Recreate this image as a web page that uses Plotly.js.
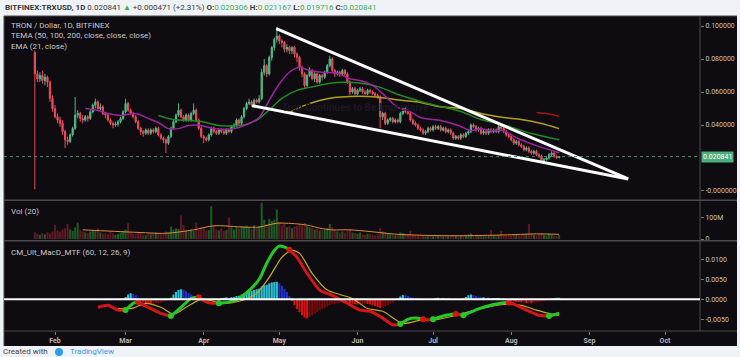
<!DOCTYPE html>
<html><head><meta charset="utf-8">
<script src="https://cdn.plot.ly/plotly-3.0.1.min.js"></script>
<style>html,body{margin:0;padding:0;background:#eff2f6;}#chart{width:740px;height:357px;}</style>
</head><body><div id="chart"></div>
<script>
// ---------------- DATA ----------------
const startDay = '2018-01-24';
const opens = [.084,.071,.068,.070,.067,.069,.066,.056,.050,.045,
.043,.041,.036,.031,.030,.034,.038,.046,.047,.044,
.043,.045,.044,.048,.052,.054,.050,.051,.047,.046,
.043,.041,.040,.0405,.042,.044,.048,.053,.049,.047,
.045,.042,.038,.036,.035,.037,.035,.037,.036,.038,
.034,.032,.031,.029,.033,.038,.042,.046,.049,.045,
.043,.046,.043,.047,.049,.043,.038,.033,.032,.031,
.034,.038,.036,.035,.037,.036,.035,.037,.036,.039,
.040,.043,.041,.045,.050,.053,.054,.052,.055,.054,
.056,.072,.076,.071,.081,.087,.092,.094,.091,.090,
.086,.087,.085,.087,.083,.081,.075,.071,.064,.070,
.073,.068,.071,.066,.070,.069,.072,.076,.080,.073,
.071,.072,.071,.073,.071,.066,.060,.062,.059,.061,
.062,.060,.059,.061,.060,.059,.058,.057,.045,.047,
.041,.043,.044,.042,.043,.042,.047,.050,.048,.047,
.043,.041,.040,.038,.037,.035,.036,.038,.037,.039,
.038,.039,.037,.038,.036,.037,.035,.032,.033,.032,
.034,.033,.035,.036,.040,.039,.037,.038,.035,.036,
.035,.037,.036,.037,.036,.039,.038,.036,.034,.033,
.031,.029,.030,.028,.027,.025,.026,.024,.023,.024,
.022,.021,.018,.019,.020,.022,.023,.021,.020306];
const highs = [.085,.073,.072,.073,.071,.070,.067,.058,.052,.047,
.045,.043,.037,.033,.035,.039,.057,.049,.048,.046,
.046,.046,.049,.053,.056,.055,.053,.052,.048,.047,
.044,.042,.042,.043,.045,.049,.056,.054,.050,.048,
.046,.043,.039,.037,.038,.038,.038,.038,.039,.039,
.035,.033,.032,.034,.039,.043,.047,.053,.050,.046,
.047,.047,.048,.053,.050,.044,.039,.034,.033,.035,
.039,.039,.037,.038,.038,.037,.038,.038,.040,.041,
.044,.044,.046,.051,.054,.056,.055,.056,.056,.058,
.074,.080,.077,.082,.088,.093,.0995,.095,.092,.091,
.089,.088,.088,.088,.084,.082,.076,.072,.071,.075,
.074,.072,.072,.071,.071,.073,.077,.082,.081,.074,
.073,.073,.074,.074,.072,.067,.063,.063,.062,.063,
.063,.061,.062,.062,.061,.060,.059,.058,.048,.048,
.044,.045,.045,.044,.044,.048,.051,.051,.049,.048,
.044,.042,.041,.039,.038,.037,.039,.039,.040,.040,
.040,.040,.039,.039,.038,.038,.036,.034,.034,.035,
.035,.036,.037,.041,.041,.040,.039,.039,.037,.037,
.038,.038,.038,.038,.040,.040,.039,.037,.035,.034,
.032,.031,.031,.029,.028,.027,.027,.025,.025,.025,
.023,.022,.020,.021,.023,.024,.024,.022,.021167];
const lows = [.001,.066,.066,.065,.064,.063,.054,.048,.044,.041,
.039,.034,.026,.028,.029,.033,.037,.044,.042,.041,
.042,.042,.043,.047,.050,.049,.049,.046,.044,.042,
.040,.038,.039,.039,.041,.043,.047,.048,.046,.044,
.041,.037,.034,.033,.034,.034,.034,.035,.035,.033,
.031,.029,.023,.028,.032,.037,.041,.045,.044,.042,
.042,.042,.042,.046,.042,.037,.032,.029,.030,.030,
.033,.035,.034,.034,.035,.034,.034,.035,.035,.038,
.039,.040,.040,.044,.049,.052,.051,.051,.053,.053,
.055,.070,.069,.070,.079,.085,.090,.089,.087,.084,
.084,.083,.083,.081,.078,.073,.069,.062,.063,.069,
.067,.066,.065,.065,.067,.068,.071,.075,.072,.069,
.070,.069,.070,.070,.065,.058,.059,.058,.058,.060,
.059,.058,.058,.059,.058,.057,.056,.038,.043,.040,
.040,.042,.041,.041,.041,.041,.046,.047,.046,.042,
.040,.039,.037,.036,.034,.034,.035,.036,.036,.037,
.037,.036,.036,.035,.035,.034,.031,.031,.031,.031,
.032,.032,.034,.035,.038,.036,.036,.034,.034,.034,
.034,.035,.035,.035,.035,.037,.035,.033,.032,.030,
.028,.028,.027,.026,.024,.024,.023,.022,.022,.021,
.020,.0175,.0175,.0185,.019,.021,.020,.0195,.019716];
const closes = [.071,.068,.070,.067,.069,.066,.056,.050,.045,.043,
.041,.036,.031,.030,.034,.038,.046,.047,.044,.043,
.045,.044,.048,.052,.054,.050,.051,.047,.046,.043,
.041,.040,.0405,.042,.044,.048,.053,.049,.047,.045,
.042,.038,.036,.035,.037,.035,.037,.036,.038,.034,
.032,.031,.029,.033,.038,.042,.046,.049,.045,.043,
.046,.043,.047,.049,.043,.038,.033,.032,.031,.034,
.038,.036,.035,.037,.036,.035,.037,.036,.039,.040,
.043,.041,.045,.050,.053,.054,.052,.055,.054,.056,
.072,.076,.071,.081,.087,.092,.094,.091,.090,.086,
.087,.085,.087,.083,.081,.075,.071,.064,.070,.073,
.068,.071,.066,.070,.069,.072,.076,.080,.073,.071,
.072,.071,.073,.071,.066,.060,.062,.059,.061,.062,
.060,.059,.061,.060,.059,.058,.057,.045,.047,.041,
.043,.044,.042,.043,.042,.047,.050,.048,.047,.043,
.041,.040,.038,.037,.035,.036,.038,.037,.039,.038,
.039,.037,.038,.036,.037,.035,.032,.033,.032,.034,
.033,.035,.036,.040,.039,.037,.038,.035,.036,.035,
.037,.036,.037,.036,.039,.038,.036,.034,.033,.031,
.029,.030,.028,.027,.025,.026,.024,.023,.024,.022,
.021,.018,.019,.020,.022,.023,.021,.0203,.020841];
// volume, millions
const volumes = [32,25,20,28,22,30,26,35,67,40,
35,45,50,70,45,38,55,78,40,35,
30,28,35,42,38,51,30,25,28,22,
32,26,20,24,30,35,45,74,30,25,
22,28,32,20,18,24,22,26,30,28,
22,25,35,30,59,45,50,48,110,67,
40,35,45,38,78,45,55,50,40,42,
154,60,45,40,50,38,42,102,55,45,
55,50,60,58,62,55,48,65,52,60,
170,90,70,95,85,90,138,80,65,70,
55,60,50,58,62,70,65,75,60,55,
50,45,48,40,42,45,50,70,55,40,
35,30,35,30,40,45,30,28,25,30,
22,20,25,22,20,18,22,51,35,30,
25,22,20,18,20,30,28,22,20,38,
18,15,17,13,16,12,14,17,13,15,
18,14,12,16,13,17,20,15,13,14,
18,19,22,26,18,15,14,17,13,16,
14,43,18,16,20,38,15,14,16,18,
20,22,18,20,24,22,70,25,20,18,
22,28,20,18,24,22,16,15,18];
const volMaIdx = [19,39,52,63,71,83,89,96,105,109,113,118,125,133,144,160,173,186,199,208];
const volMaVal = [43,32,27,43,62,56,56,74,70,63,51,43,43,35,22,16,16,19,24,22];

// moving averages (day index from startDay, value)
const emaIdx = [20,25,29,34,40,45,49,53,57,61,66,71,79,85,89,93,97,101,105,109,114,120,125,129,134,138,144,148,153,161,168,173,177,181,186,191,199,208];
const emaVal = [0.050,0.0488,0.047,0.0458,0.047,0.044,0.0415,0.0378,0.0378,0.0397,0.0397,0.0378,0.0378,0.0409,0.0445,0.055,0.065,0.072,0.075,0.073,0.072,0.0714,0.068,0.067,0.064,0.059,0.0506,0.049,0.0445,0.0427,0.0397,0.0366,0.0378,0.0366,0.0366,0.0323,0.0275,0.0232];
const tema50Idx = [49,55,66,73,81,85,89,94,98,104,109,117,124,132,137,145,153,161,169,177,187,197,208];
const tema50Val = [.0458,.0433,.0421,.0397,.0397,.0409,.0439,.0506,.0561,.061,.0628,.0653,.0659,.0647,.0628,.058,.0543,.0512,.0482,.0433,.0397,.0348,.0311];
const tema100Idx = [101,107,113,119,125,132,137,146,153,160,169,177,186,193,201,208];
const tema100Val = [.0476,.0519,.0549,.0567,.0573,.0573,.0567,.0549,.0537,.0512,.050,.047,.0445,.0433,.0409,.0378];
const tema200Idx = [199,204,208];
const tema200Val = [.0476,.0467,.0452];

// trend lines drawn on the chart
const upperTrendIdx = [95.8,235.4];
const upperTrendVal = [0.0985,0.0073];
const lowerTrendIdx = [86.2,235.4];
const lowerTrendVal = [0.0517,0.0073];

// MACD indicator
const histStart = 36;
const hist = [.0006,.0012,.0015,.0013,.0010,.0004,-.0003,-.0006,-.0009,-.0011,
-.0012,-.0012,-.0010,-.0009,-.0008,-.0006,-.0004,-.0002,.0004,.0012,
.0018,.0023,.0025,.0024,.0020,.0016,.0012,.0009,.0004,-.0002,
-.0005,-.0007,-.0006,-.0005,-.0004,-.0003,-.0002,.0001,.0003,.0004,
.0005,.0004,.0005,.0006,.0008,.0009,.0012,.0015,.0018,.0020,
.0021,.0023,.0025,.0027,.0032,.0035,.0036,.0040,.0042,.0043,
.0044,.0040,.0034,.0026,.0018,.0008,-.0004,-.0014,-.0024,-.0032,
-.0040,-.0046,-.0048,-.0044,-.0040,-.0036,-.0032,-.0028,-.0024,-.0021,
-.0018,-.0014,-.0012,-.0011,-.0010,-.0009,-.0008,-.0008,-.0007,-.0009,
-.0011,-.0012,-.0013,-.0013,-.0012,-.0011,-.0012,-.0013,-.0015,-.0017,
-.0019,-.0022,-.0020,-.0018,-.0015,-.0012,-.0008,-.0004,.0002,.0007,
.0011,.0010,.0008,.0006,.0004,.0003,.0002,.0001,-.0002,-.0002,
-.0001,-.0001,.0001,.0003,.0004,.0003,.0003,.0002,.0002,.0001,
-.0001,-.0002,-.0001,-.0001,.0002,.0006,.0010,.0012,.0010,.0008,
.0006,.0005,.0005,.0004,.0004,.0003,.0003,.0003,.0003,.0002,
.0002,.0001,-.0002,-.0004,-.0005,-.0006,-.0007,-.0008,-.0008,-.0009,
-.0009,-.0010,-.0009,-.0008,-.0007,-.0006,-.0004,-.0002,.0001,.0002,
.0003,.0004,.0004];
const macdIdx = [25,29,33,36,39,41,45,50,54,58,62,65,69,73,77,81,86,89,92,95,97,100,101,104,108,113,118,124,129,133,138,142,145,148,151,154,156,158,163,167,170,176,182,187,188,190,195,200,204,208];
const macdVal = [-0.0020,-0.0015,-0.0027,-0.0027,-0.0010,-0.0007,-0.0020,-0.0035,-0.0042,-0.0020,0.0002,0.0005,-0.0009,-0.0010,-0.0007,0.0002,0.0028,0.0050,0.0090,0.0122,0.0133,0.0128,0.0124,0.0105,0.0065,0.0023,0.0010,-0.0010,-0.0027,-0.0030,-0.0047,-0.0064,-0.0062,-0.0050,-0.0047,-0.0050,-0.0052,-0.0050,-0.0040,-0.0037,-0.0040,-0.0024,-0.0013,-0.0008,-0.0008,-0.0012,-0.0027,-0.0040,-0.0042,-0.0035];
const signalIdx = [33,39,44,50,55,60,66,71,76,81,88,93,98,102,105,110,116,121,126,132,138,146,153,160,169,177,186,193,199,205,208];
const signalVal = [-0.0023,-0.0022,-0.0010,-0.0020,-0.0037,-0.0020,0.0000,-0.0005,-0.0010,-0.0005,0.0015,0.0055,0.0105,0.0122,0.0115,0.0065,0.0023,0.0012,0.0002,-0.0023,-0.0030,-0.0060,-0.0052,-0.0050,-0.0037,-0.0023,-0.0013,-0.0015,-0.0027,-0.0037,-0.0040];

const priceTicks = [0,0.04,0.06,0.08,0.1];
const priceTickText = ['-0.000000','0.040000','0.060000','0.080000','0.100000'];
const volTicks = [0,100];
const volTickText = ['0','100M'];
const macdTicks = [-0.005,0,0.005,0.01];
const macdTickText = ['-0.0050','0.0000','0.0050','0.0100'];
const lastClose = 0.020841;

// ---------------- BUILD ----------------
const DAY = 86400000;
const t0 = Date.parse(startDay + 'T00:00:00Z');
function dayToDate(i){ return new Date(t0 + i*DAY).toISOString().replace('T',' ').slice(0,19); }
const dates = opens.map((_,i)=>dayToDate(i));
const W=740,H=357;
const px = x=>x/W, py = y=>1-y/H;
const FONT = 'Roboto, "Open Sans", sans-serif';
const BG = '#0e0b11';
const UP='#53b987', DN='#eb4d5c';

const traces = [];
traces.push({type:'candlestick', x:dates, open:opens, high:highs, low:lows, close:closes, xaxis:'x', yaxis:'y',
  increasing:{line:{color:UP,width:1},fillcolor:UP}, decreasing:{line:{color:DN,width:1},fillcolor:DN},
  whiskerwidth:0, hoverinfo:'skip'});
function line(idx,val,color,width,yaxis){
  return {type:'scatter',mode:'lines',x:idx.map(dayToDate),y:val,xaxis:'x',yaxis:yaxis||'y',
    line:{color:color,width:width,shape:'spline',smoothing:0.8},hoverinfo:'skip'};
}
traces.push(line(tema200Idx,tema200Val,'#a31212',1.5));
traces.push(line(tema100Idx,tema100Val,'#b3a018',1.5));
traces.push(line(tema50Idx,tema50Val,'#1f8c1f',1.5));
traces.push(line(emaIdx,emaVal,'#a0229f',1.5));
traces.push({type:'scatter',mode:'lines',x:upperTrendIdx.map(dayToDate),y:upperTrendVal,xaxis:'x',yaxis:'y',line:{color:'#ffffff',width:3},hoverinfo:'skip'});
traces.push({type:'scatter',mode:'lines',x:lowerTrendIdx.map(dayToDate),y:lowerTrendVal,xaxis:'x',yaxis:'y',line:{color:'#ffffff',width:3},hoverinfo:'skip'});

// volume
traces.push({type:'bar',x:dates,y:volumes,xaxis:'x',yaxis:'y2',width:DAY*0.8,
  marker:{color:volumes.map((v,i)=>closes[i]>=opens[i]?'#1e5a24':'#5e1a24'),line:{width:0}},hoverinfo:'skip'});
traces.push(line(volMaIdx,volMaVal,'#e08a3c',1,'y2'));

// MACD histogram
const histDates = hist.map((_,k)=>dayToDate(histStart+k));
const histColors = hist.map((h,k)=>{const hp = k>0?hist[k-1]:0; return h>=0 ? (h>=hp?'#2ac0d2':'#1f31c4') : (h<hp?'#cf1212':'#6e0a0a');});
traces.push({type:'bar',x:histDates,y:hist,xaxis:'x',yaxis:'y3',width:DAY*0.85,marker:{color:histColors,line:{width:0}},hoverinfo:'skip'});
traces.push(line(signalIdx,signalVal,'#c2ac1c',1.2,'y3'));
// MACD line coloured by histogram sign
function histAt(i){const k=Math.floor(i)-histStart; return (k>=0&&k<hist.length)?hist[k]:-1;}
const runs=[];
for(let j=0;j<macdIdx.length-1;j++){
  const up = histAt((macdIdx[j]+macdIdx[j+1])/2)>=0;
  if(runs.length && runs[runs.length-1].up===up){runs[runs.length-1].pts.push(j+1);} else runs.push({up:up,pts:[j,j+1]});
}
const dotX=[],dotY=[],dotC=[];
runs.forEach((r,n)=>{
  const c = r.up?'#25c825':'#d41616';
  traces.push({type:'scatter',mode:'lines',x:r.pts.map(j=>dayToDate(macdIdx[j])),y:r.pts.map(j=>macdVal[j]),xaxis:'x',yaxis:'y3',
    line:{color:c,width:3,shape:'spline',smoothing:0.6},hoverinfo:'skip'});
  if(n>0){dotX.push(dayToDate(macdIdx[r.pts[0]]));dotY.push(macdVal[r.pts[0]]);dotC.push(c);}
});
traces.push({type:'scatter',mode:'markers',x:dotX,y:dotY,xaxis:'x',yaxis:'y3',marker:{color:dotC,size:6},hoverinfo:'skip'});

const yCommon = {side:'right',anchor:'x',showgrid:false,zeroline:false,showline:false,ticks:'outside',ticklen:3,tickcolor:'#7a7a7a',
  tickfont:{family:FONT,size:7,color:'#c4c4c4'},fixedrange:true};
const GRID='#4a494e';
const layout = {
  width:W,height:H,margin:{l:0,r:0,t:0,b:0},paper_bgcolor:'#eff2f6',plot_bgcolor:BG,showlegend:false,
  xaxis:{type:'date',domain:[px(4),px(700)],range:['2018-01-11 18:25','2018-10-14 21:00'],anchor:'y3',
    rangeslider:{visible:false},showgrid:false,zeroline:false,showline:false,tickformat:'%b',dtick:'M1',tick0:'2018-01-01',
    ticks:'outside',ticklen:3,tickcolor:'#7a7a7a',tickfont:{family:FONT,size:7,color:'#b8b8b8',weight:'bold'}},
  yaxis:Object.assign({},yCommon,{domain:[py(200),py(16.5)],range:[-0.00547,0.10578],tickvals:priceTicks,ticktext:priceTickText}),
  yaxis2:Object.assign({},yCommon,{domain:[py(240.5),py(200.5)],range:[-7,180.75],tickvals:volTicks,ticktext:volTickText}),
  yaxis3:Object.assign({},yCommon,{domain:[py(330.7),py(241)],range:[-0.00785,0.014575],tickvals:macdTicks,ticktext:macdTickText}),
  shapes:[
    {type:'rect',xref:'paper',yref:'paper',x0:px(4),x1:px(737),y0:py(346),y1:py(16),fillcolor:BG,line:{width:0},layer:'below'},
    {type:'line',xref:'paper',yref:'paper',x0:px(4),x1:px(737),y0:py(16),y1:py(16),line:{color:GRID,width:1}},
    {type:'line',xref:'paper',yref:'paper',x0:px(4),x1:px(4),y0:py(16),y1:py(346),line:{color:GRID,width:1}},
    {type:'line',xref:'paper',yref:'paper',x0:px(700),x1:px(700),y0:py(16),y1:py(331),line:{color:GRID,width:1}},
    {type:'line',xref:'paper',yref:'paper',x0:px(4),x1:px(737),y0:py(200.3),y1:py(200.3),line:{color:GRID,width:1.5}},
    {type:'line',xref:'paper',yref:'paper',x0:px(4),x1:px(737),y0:py(240.7),y1:py(240.7),line:{color:GRID,width:1.5}},
    {type:'line',xref:'paper',yref:'paper',x0:px(4),x1:px(737),y0:py(331),y1:py(331),line:{color:GRID,width:1}},
    {type:'line',xref:'x domain',yref:'y',x0:0,x1:1,y0:lastClose,y1:lastClose,line:{color:'#3f8a70',width:1,dash:'dot'}},
    {type:'line',xref:'x domain',yref:'y3',x0:0,x1:1,y0:0,y1:0,line:{color:'#ffffff',width:2}},
    {type:'circle',xref:'paper',yref:'paper',x0:px(55),x1:px(63),y0:py(356),y1:py(348),fillcolor:'#2a9df4',line:{width:0}}
  ],
  annotations:[
    {xref:'paper',yref:'paper',x:px(3),y:py(7),xanchor:'left',yanchor:'middle',showarrow:false,
      font:{family:FONT,size:8,color:'#3a3a3a'},
      text:"<b>BITFINEX:TRXUSD, 1D</b> 0.020841 <span style='color:#3fae5a'>▲</span> +0.000471 (+2.31%) <b>O:</b><span style='color:#3fae5a'>0.020306</span> <b>H:</b><span style='color:#3fae5a'>0.021167</span> <b>L:</b><span style='color:#3fae5a'>0.019716</span> <b>C:</b><span style='color:#3fae5a'>0.020841</span>"},
    {xref:'paper',yref:'paper',x:px(9),y:py(26),xanchor:'left',yanchor:'middle',showarrow:false,font:{family:FONT,size:8,color:'#c9c9c9'},text:'TRON / Dollar, 1D, BITFINEX'},
    {xref:'paper',yref:'paper',x:px(9),y:py(36),xanchor:'left',yanchor:'middle',showarrow:false,font:{family:FONT,size:8,color:'#c9c9c9'},text:'TEMA (50, 100, 200, close, close, close)'},
    {xref:'paper',yref:'paper',x:px(9),y:py(46.5),xanchor:'left',yanchor:'middle',showarrow:false,font:{family:FONT,size:8,color:'#c9c9c9'},text:'EMA (21, close)'},
    {xref:'paper',yref:'paper',x:px(9),y:py(211),xanchor:'left',yanchor:'middle',showarrow:false,font:{family:FONT,size:8,color:'#c9c9c9'},text:'Vol (20)'},
    {xref:'paper',yref:'paper',x:px(9),y:py(252),xanchor:'left',yanchor:'middle',showarrow:false,font:{family:FONT,size:8,color:'#c9c9c9'},text:'CM_Ult_MacD_MTF (60, 12, 26, 9)'},
    {xref:'paper',yref:'paper',x:px(355),y:py(107),xanchor:'center',yanchor:'middle',showarrow:false,font:{family:FONT,size:10,color:'#1b1820',weight:'bold'},text:'Tron Continues to Be Impressive'},
    {xref:'paper',yref:'y',x:px(701),y:lastClose,xanchor:'left',yanchor:'middle',showarrow:false,bgcolor:'#4aae7f',borderpad:1,font:{family:FONT,size:7,color:'#ffffff'},text:'0.020841'},
    {xref:'paper',yref:'paper',x:px(1),y:py(351.5),xanchor:'left',yanchor:'middle',showarrow:false,font:{family:FONT,size:8,color:'#444444'},text:'Created with'},
    {xref:'paper',yref:'paper',x:px(68),y:py(351.5),xanchor:'left',yanchor:'middle',showarrow:false,font:{family:FONT,size:8,color:'#2a9df4'},text:'TradingView'}
  ]
};
Plotly.newPlot('chart',traces,layout,{staticPlot:true,displayModeBar:false});
</script></body></html>
